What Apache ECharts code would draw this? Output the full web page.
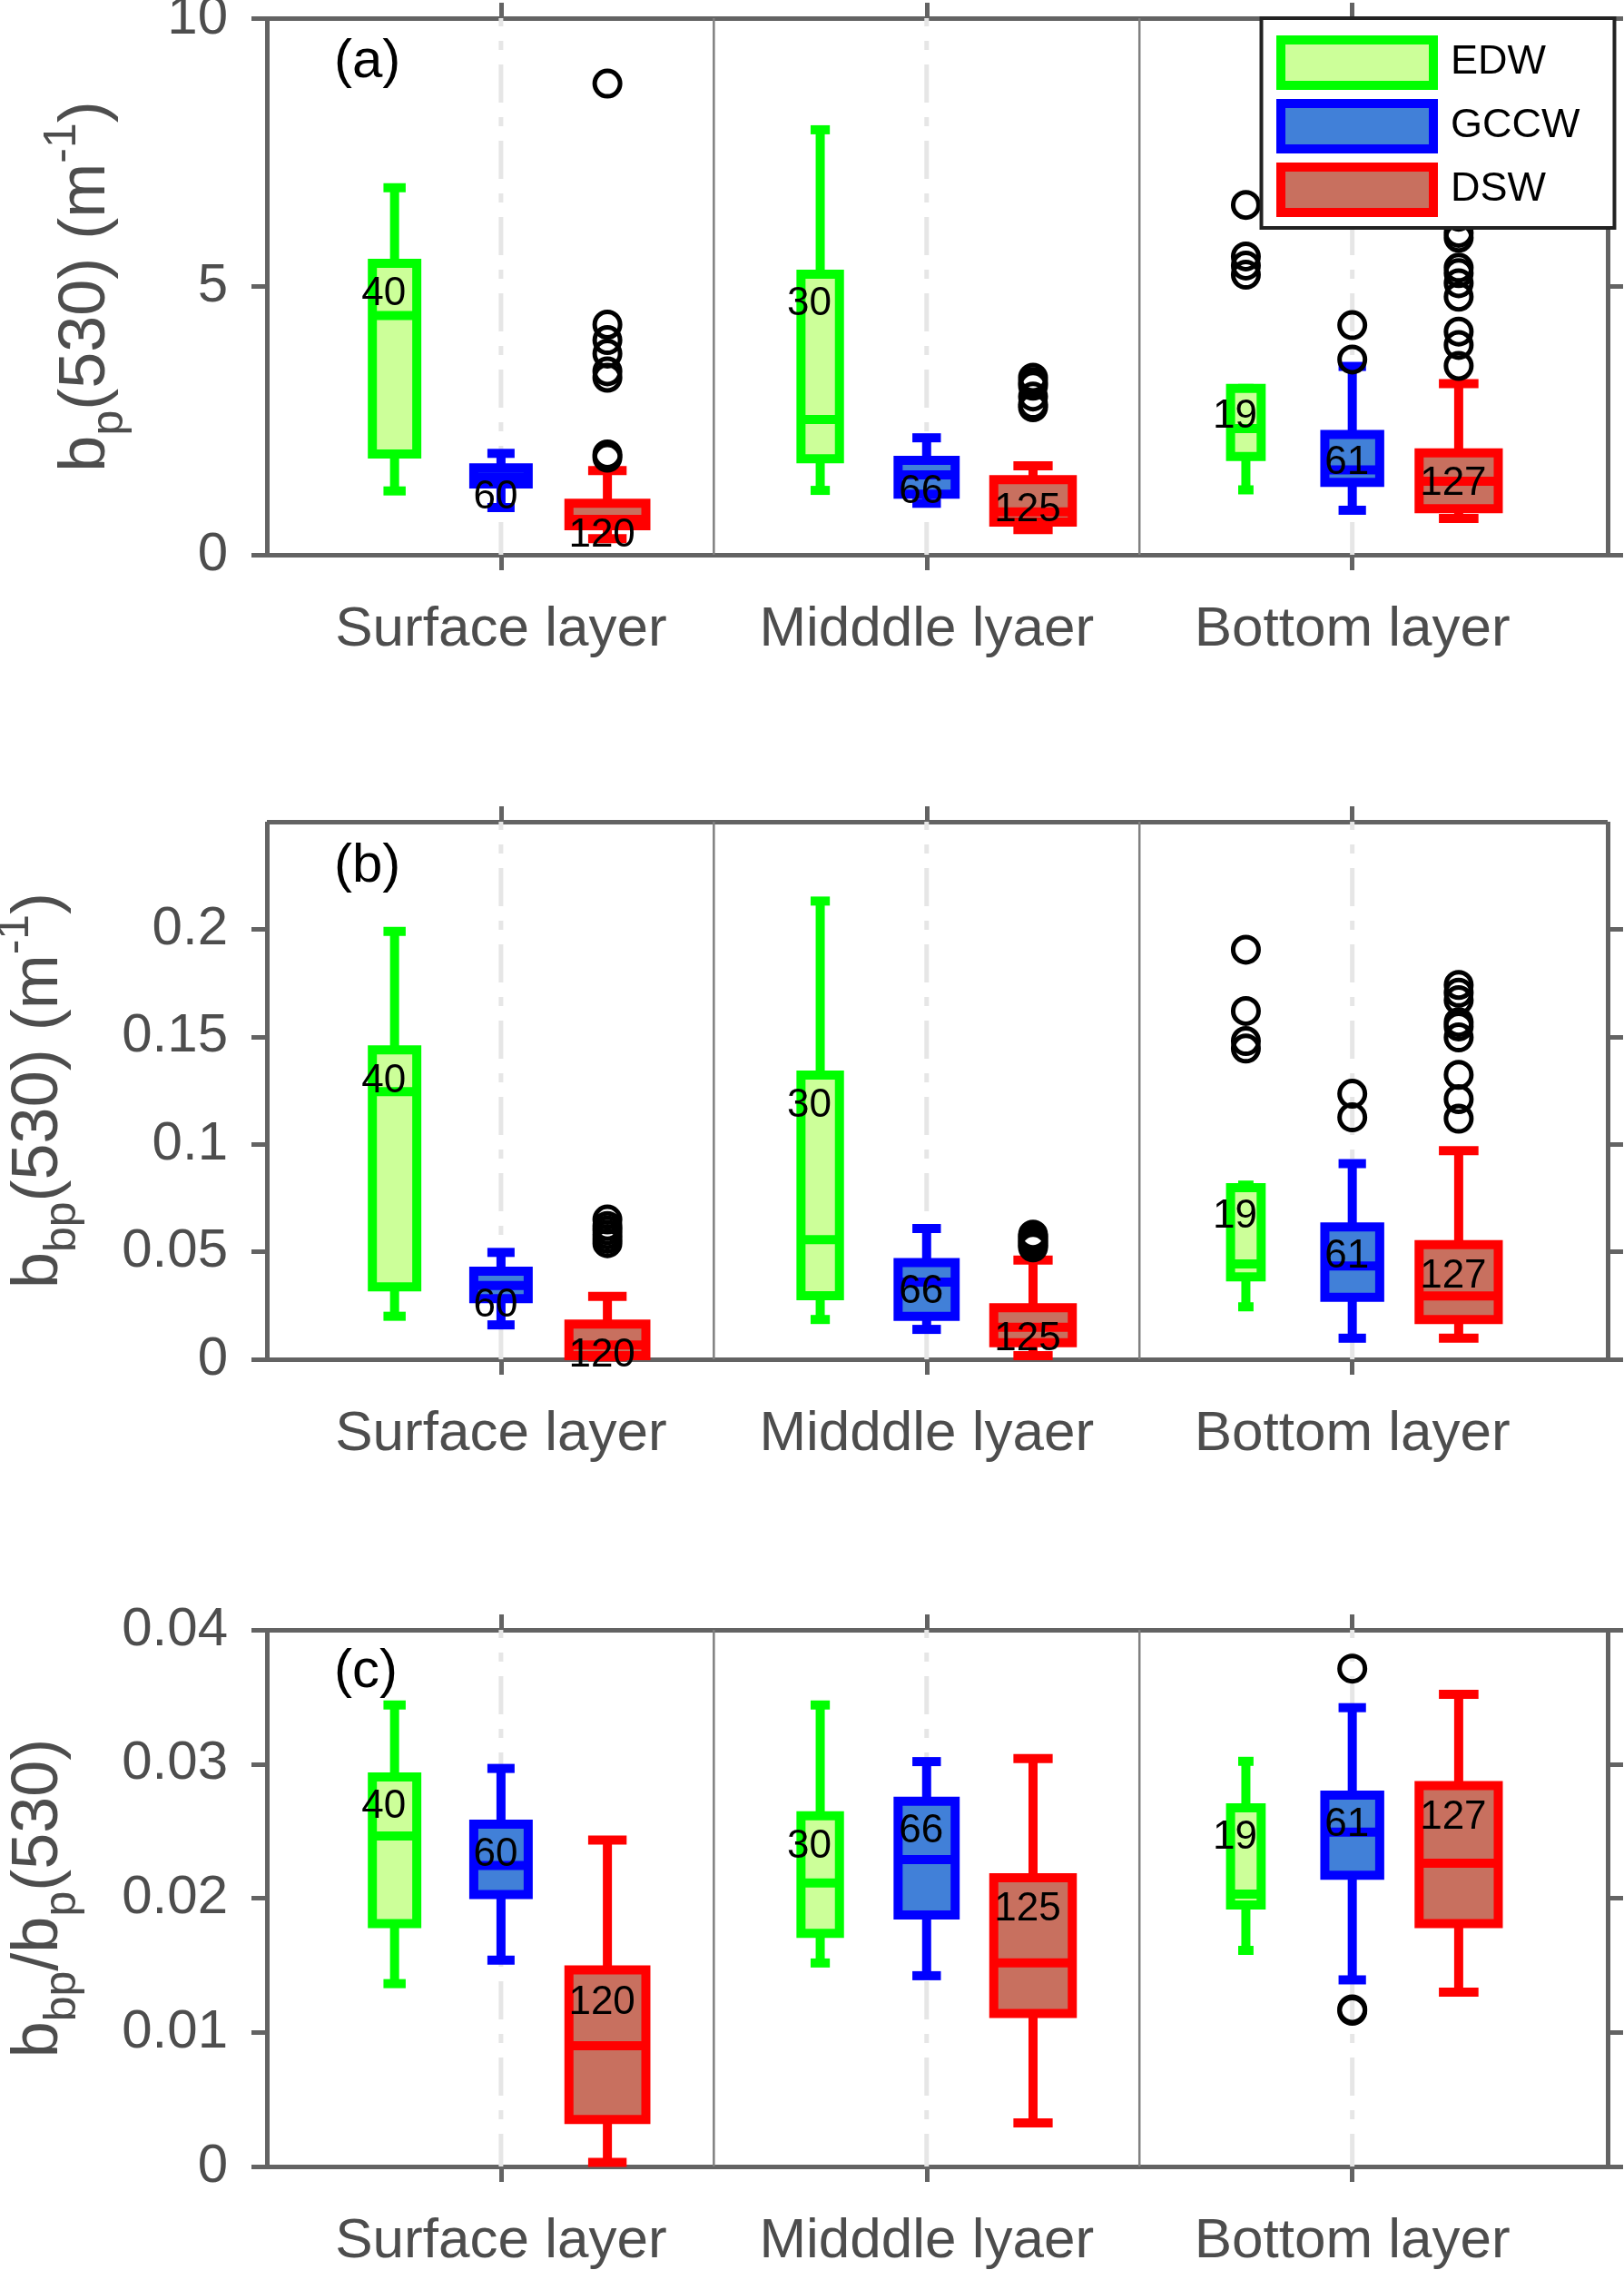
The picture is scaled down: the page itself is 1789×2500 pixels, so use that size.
<!DOCTYPE html>
<html>
<head>
<meta charset="utf-8">
<script src="https://cdn.jsdelivr.net/npm/echarts@6/dist/echarts.min.js"></script>
<style>html,body{margin:0;padding:0;background:#fff}#chart{width:1789px;height:2500px}</style>
</head>
<body>
<div id="chart"></div>
<script>
// ---------------- DATA ----------------
const layers = ['Surface layer', 'Midddle lyaer', 'Bottom layer'];
const groups = ['EDW', 'GCCW', 'DSW'];
const layerTicks = [1, 2, 3];
const layerBounds = [1.5, 2.5];

// sample counts per layer
const nEDW = [40, 30, 19];
const nGCCW = [60, 66, 61];
const nDSW = [120, 125, 127];

// (a) bp(530): per layer [lower whisker, Q1, median, Q3, upper whisker]
const bpEDW = [[1.19, 1.88, 4.46, 5.43, 6.84], [1.20, 1.79, 2.52, 5.23, 7.92], [1.21, 1.83, 2.35, 3.10, 3.10]];
const bpGCCW = [[0.88, 1.32, 1.45, 1.62, 1.89], [0.96, 1.13, 1.49, 1.76, 2.18], [0.83, 1.35, 1.58, 2.24, 3.51]];
const bpDSW = [[0.30, 0.54, 0.66, 0.96, 1.57], [0.47, 0.61, 0.80, 1.40, 1.66], [0.676, 0.857, 1.37, 1.90, 3.19]];
const bpOutEDW = [[], [], [6.52, 5.56, 5.39, 5.22]];
const bpOutGCCW = [[], [], [4.28, 3.64]];
const bpOutDSW = [[8.78, 4.29, 4.0, 3.75, 3.42, 3.3, 1.87, 1.81], [3.3, 3.22, 3.15, 2.95, 2.8, 2.75], [6.6, 6.3, 6.0, 5.91, 5.35, 5.25, 5.06, 4.81, 4.16, 3.91, 3.52]];
const bpLabEDW = [4.86, 4.67, 2.57];
const bpLabGCCW = [1.06, 1.17, 1.71];
const bpLabDSW = [0.36, 0.83, 1.33];
const bpTicks = [0, 5, 10];
const bpMax = 10;

// (b) bbp(530)
const bbpEDW = [[0.020, 0.0337, 0.1245, 0.1439, 0.199], [0.0185, 0.0296, 0.0556, 0.1322, 0.2131], [0.0244, 0.0383, 0.0443, 0.0798, 0.081]];
const bbpGCCW = [[0.016, 0.0282, 0.0343, 0.041, 0.0497], [0.0139, 0.020, 0.0359, 0.045, 0.0608], [0.0098, 0.0288, 0.0434, 0.0615, 0.091]];
const bbpDSW = [[0.0012, 0.0017, 0.0067, 0.0164, 0.0292], [0.0017, 0.0077, 0.0149, 0.024, 0.0461], [0.0098, 0.0185, 0.0295, 0.0533, 0.097]];
const bbpOutEDW = [[], [], [0.1905, 0.162, 0.148, 0.1445]];
const bbpOutGCCW = [[], [], [0.1235, 0.1125]];
const bbpOutDSW = [[0.065, 0.062, 0.060, 0.058, 0.056, 0.054], [0.058, 0.057, 0.056, 0.055, 0.054, 0.053, 0.052], [0.1741, 0.1705, 0.167, 0.1568, 0.1548, 0.1497, 0.1323, 0.121, 0.1119]];
const bbpLabEDW = [0.1293, 0.118, 0.0663];
const bbpLabGCCW = [0.0251, 0.0312, 0.0476];
const bbpLabDSW = [0.0017, 0.0093, 0.0383];
const bbpTicks = [0, 0.05, 0.1, 0.15, 0.2];
const bbpMax = 0.25;

// (c) bbp/bp(530)
const ratioEDW = [[0.01363, 0.0181, 0.02464, 0.02903, 0.0344], [0.01517, 0.01737, 0.02114, 0.02615, 0.0344], [0.01611, 0.0195, 0.0203, 0.02673, 0.0302]];
const ratioGCCW = [[0.01538, 0.02027, 0.02244, 0.02552, 0.02967], [0.01422, 0.01875, 0.02288, 0.02722, 0.03018], [0.01391, 0.02171, 0.02493, 0.02769, 0.0342]];
const ratioDSW = [[0.0003, 0.0035, 0.0090, 0.01466, 0.02433], [0.00325, 0.0114, 0.01517, 0.02153, 0.0304], [0.013, 0.0181, 0.02261, 0.02839, 0.0352]];
const ratioOutEDW = [[], [], []];
const ratioOutGCCW = [[], [], [0.03711, 0.01171, 0.0116]];
const ratioOutDSW = [[], [], []];
const ratioLabEDW = [0.0268, 0.02385, 0.0245];
const ratioLabGCCW = [0.02322, 0.02497, 0.02546];
const ratioLabDSW = [0.01219, 0.01913, 0.02602];
const ratioTicks = [0, 0.01, 0.02, 0.03, 0.04];
const ratioMax = 0.04;

// ---------------- STYLE ----------------
const FONT = 'Liberation Sans, Arial, sans-serif';
const AXIS_COLOR = '#636363';
const TEXT_COLOR = '#4d4d4d';
const edgeColors = ['#00ff00', '#0000ff', '#ff0000'];
const fillColors = ['#ccff99', '#4180d8', '#c8705f'];
const groupOffsets = [-0.25, 0, 0.25];
const labelDx = [-12, -6, -6];
const widthPerSqrtN = 0.0165;
const LW = 10;

const counts = [nEDW, nGCCW, nDSW];
const panels = [
  { stats: [bpEDW, bpGCCW, bpDSW], outs: [bpOutEDW, bpOutGCCW, bpOutDSW], labs: [bpLabEDW, bpLabGCCW, bpLabDSW],
    ticks: bpTicks, max: bpMax, tag: '(a)', name: '{m|b}{s|p}{m|(530) (m}{u|-1}{m|)}',
    grid: { top: 20, height: 591 }, nameGap: 147, tagTop: 38 },
  { stats: [bbpEDW, bbpGCCW, bbpDSW], outs: [bbpOutEDW, bbpOutGCCW, bbpOutDSW], labs: [bbpLabEDW, bbpLabGCCW, bbpLabDSW],
    ticks: bbpTicks, max: bbpMax, tag: '(b)', name: '{m|b}{s|bp}{m|(530) (m}{u|-1}{m|)}',
    grid: { top: 905, height: 592 }, nameGap: 199, tagTop: 924 },
  { stats: [ratioEDW, ratioGCCW, ratioDSW], outs: [ratioOutEDW, ratioOutGCCW, ratioOutDSW], labs: [ratioLabEDW, ratioLabGCCW, ratioLabDSW],
    ticks: ratioTicks, max: ratioMax, tag: '(c)', name: '{m|b}{s|bp}{m|/b}{s|p}{m|(530)}',
    grid: { top: 1795, height: 591 }, nameGap: 200, tagTop: 1811 }
];

function boxRenderer(g) {
  return function (params, api) {
    const x = api.value(0);
    const low = api.value(1), q1 = api.value(2), med = api.value(3), q3 = api.value(4), high = api.value(5);
    const n = api.value(6), lab = api.value(7);
    const hw = api.size([widthPerSqrtN * Math.sqrt(n), 0])[0] / 2;
    const cx = api.coord([x, med])[0];
    const yLow = api.coord([x, low])[1];
    const yQ1 = api.coord([x, q1])[1];
    const yMed = api.coord([x, med])[1];
    const yQ3 = api.coord([x, q3])[1];
    const yHigh = api.coord([x, high])[1];
    const yLab = api.coord([x, lab])[1];
    const ls = { stroke: edgeColors[g], lineWidth: LW, lineCap: 'butt' };
    return {
      type: 'group',
      children: [
        { type: 'line', shape: { x1: cx, y1: yQ3, x2: cx, y2: yHigh }, style: ls },
        { type: 'line', shape: { x1: cx, y1: yQ1, x2: cx, y2: yLow }, style: ls },
        { type: 'line', shape: { x1: cx - hw / 2, y1: yHigh, x2: cx + hw / 2, y2: yHigh }, style: ls },
        { type: 'line', shape: { x1: cx - hw / 2, y1: yLow, x2: cx + hw / 2, y2: yLow }, style: ls },
        { type: 'rect', shape: { x: cx - hw, y: yQ3, width: 2 * hw, height: yQ1 - yQ3 },
          style: { fill: fillColors[g], stroke: edgeColors[g], lineWidth: LW } },
        { type: 'line', shape: { x1: cx - hw, y1: yMed, x2: cx + hw, y2: yMed }, style: ls },
        { type: 'text', x: cx + labelDx[g], y: yLab,
          style: { text: String(n), fill: '#000', fontSize: 44, fontFamily: FONT, align: 'center', verticalAlign: 'middle' } }
      ]
    };
  };
}

function guideRenderer(params, api) {
  const cs = params.coordSys;
  const x = api.coord([api.value(0), 0])[0];
  const isSep = api.value(1) === 1;
  return {
    type: 'line',
    shape: { x1: x, y1: cs.y, x2: x, y2: cs.y + cs.height },
    style: isSep
      ? { stroke: '#808080', lineWidth: 2.5 }
      : { stroke: '#e6e6e6', lineWidth: 5, lineDash: [42, 16, 10, 16], lineDashOffset: 33 }
  };
}

const fmtNum = v => String(parseFloat(Number(v).toFixed(6)));
const lineStyle = { color: AXIS_COLOR, width: 5, cap: 'butt' };

const grid = [], xAxis = [], yAxis = [], series = [], title = [];
panels.forEach((p, pi) => {
  grid.push({ left: 294, width: 1477, top: p.grid.top, height: p.grid.height, containLabel: false, outerBoundsMode: 'none' });
  title.push({ text: p.tag, left: 368, top: p.tagTop, padding: 0,
    textStyle: { fontSize: 60, fontWeight: 'normal', color: '#000', fontFamily: FONT } });
  const xBase = { gridIndex: pi, type: 'value', min: 0.45, max: 3.6,
    axisLine: { show: true, onZero: false, lineStyle },
    axisTick: { show: true, inside: false, length: 17, customValues: layerTicks, lineStyle },
    splitLine: { show: false } };
  xAxis.push(Object.assign({}, xBase, { position: 'bottom',
    axisLabel: { show: true, customValues: layerTicks, margin: 52, fontSize: 62, color: TEXT_COLOR, fontFamily: FONT,
      formatter: v => layers[layerTicks.indexOf(Math.round(v))] || '' } }));
  xAxis.push(Object.assign({}, xBase, { position: 'top', axisLabel: { show: false } }));
  const yBase = { gridIndex: pi, type: 'value', min: 0, max: p.max,
    axisLine: { show: true, onZero: false, lineStyle },
    axisTick: { show: true, inside: false, length: 17, customValues: p.ticks, lineStyle },
    splitLine: { show: false } };
  yAxis.push(Object.assign({}, yBase, { position: 'left',
    axisLabel: { show: true, customValues: p.ticks, margin: 43, fontSize: 60, color: TEXT_COLOR, fontFamily: FONT, formatter: fmtNum },
    name: p.name, nameLocation: 'middle', nameRotate: 90, nameGap: p.nameGap, nameMoveOverlap: false,
    nameTextStyle: {
      color: TEXT_COLOR, fontFamily: FONT, fontSize: 72,
      rich: {
        m: { fontSize: 72, color: TEXT_COLOR, fontFamily: FONT, verticalAlign: 'middle' },
        s: { fontSize: 50, color: TEXT_COLOR, fontFamily: FONT, verticalAlign: 'middle', padding: [51, 0, 0, 0] },
        u: { fontSize: 50, color: TEXT_COLOR, fontFamily: FONT, verticalAlign: 'middle', padding: [0, 0, 53, 0] }
      }
    } }));
  yAxis.push(Object.assign({}, yBase, { position: 'right', axisLabel: { show: false } }));

  // guide lines (dash-dot grid at layer ticks, solid separators between layers)
  series.push({ type: 'custom', name: 'guides', xAxisIndex: 2 * pi, yAxisIndex: 2 * pi, z: 1, silent: true, clip: false,
    data: layerTicks.map(t => [t, 0]).concat(layerBounds.map(b => [b, 1])), renderItem: guideRenderer });

  groups.forEach((gName, g) => {
    series.push({ type: 'custom', name: gName, xAxisIndex: 2 * pi, yAxisIndex: 2 * pi, z: 3, silent: true, clip: false,
      itemStyle: { color: fillColors[g], borderColor: edgeColors[g] },
      data: layers.map((_, li) => [layerTicks[li] + groupOffsets[g]].concat(p.stats[g][li], [counts[g][li], p.labs[g][li]])),
      renderItem: boxRenderer(g) });
    const outData = [];
    layers.forEach((_, li) => p.outs[g][li].forEach(v => outData.push([layerTicks[li] + groupOffsets[g], v])));
    series.push({ type: 'scatter', name: gName, xAxisIndex: 2 * pi, yAxisIndex: 2 * pi, z: 4, silent: true,
      symbol: 'circle', symbolSize: 28,
      itemStyle: { color: 'rgba(0,0,0,0)', borderColor: '#000', borderWidth: 5, opacity: 1 },
      data: outData });
  });
});

const chart = echarts.init(document.getElementById('chart'), null, { renderer: 'canvas' });
chart.setOption({
  animation: false,
  backgroundColor: '#fff',
  title,
  grid, xAxis, yAxis, series,
  legend: {
    orient: 'vertical', left: 1389.5, top: 20,
    padding: [19, 38, 12, 16.5],
    backgroundColor: '#fff', borderColor: '#222', borderWidth: 4, borderRadius: 0,
    itemWidth: 168, itemHeight: 50, itemGap: 10, selectedMode: false,
    textStyle: { fontSize: 45, color: '#000', fontFamily: FONT, padding: [0, 0, 0, 14] },
    data: groups.map((gName, g) => ({ name: gName, icon: 'rect',
      itemStyle: { color: fillColors[g], borderColor: edgeColors[g], borderWidth: 10 } })),
    z: 10
  }
});
</script>
</body>
</html>
